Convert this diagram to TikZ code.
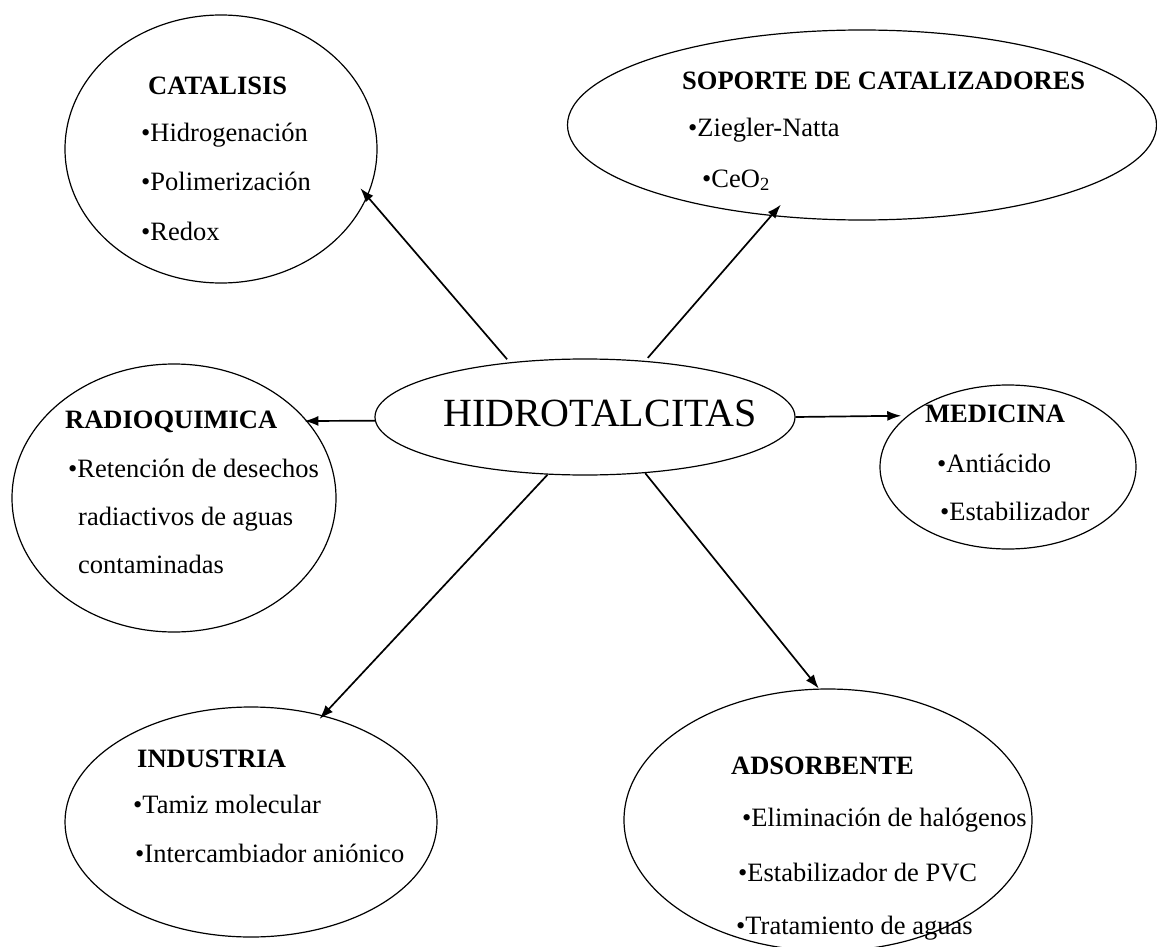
\documentclass[tikz,border=0pt]{standalone}
\usepackage{fontspec}
\setmainfont{Liberation Serif}
\usetikzlibrary{shapes.geometric,arrows.meta}
\tikzset{
  bubble/.style={ellipse, draw, line width=1.2pt, inner sep=0pt},
  headtxt/.style={anchor=base west, inner sep=0pt, font=\fontsize{26.5}{30}\selectfont\bfseries},
  itemtxt/.style={anchor=base west, inner sep=0pt, font=\fontsize{26.5}{30}\selectfont},
  maintxt/.style={anchor=base west, inner sep=0pt, font=\fontsize{40}{44}\selectfont},
  link/.style={line width=1.7pt, -{Latex[length=14pt,width=10pt]}}
}
\begin{document}
\begin{tikzpicture}[x=1pt,y=-1pt]
\useasboundingbox (0,0) rectangle (1157,947);

% ellipses
\node[bubble, minimum width=312pt, minimum height=268pt] (cat) at (221,149) {};
\node[bubble, minimum width=589pt, minimum height=190pt] (sop) at (862,125) {};
\node[bubble, minimum width=420pt, minimum height=116pt] (hid) at (585,417) {};
\node[bubble, minimum width=324pt, minimum height=268pt] (rad) at (174,498) {};
\node[bubble, minimum width=256pt, minimum height=164pt] (med) at (1008,467) {};
\node[bubble, minimum width=372pt, minimum height=230pt] (ind) at (251,822) {};
\node[bubble, minimum width=408pt, minimum height=262pt] (ads) at (828,820) {};

% central text
\node[maintxt] (hidt) at (443,426) {HIDROTALCITAS};

% CATALISIS
\node[headtxt] (catt) at (148,95) {CATALISIS};
\node[itemtxt] (cat1) at (141,142) {•Hidrogenación};
\node[itemtxt] (cat2) at (141,190) {•Polimerización};
\node[itemtxt] (cat3) at (141,240) {•Redox};

% SOPORTE
\node[headtxt] (sopt) at (682,90) {SOPORTE DE CATALIZADORES};
\node[itemtxt] (sop1) at (688,137) {•Ziegler-Natta};
\node[itemtxt] (sop2) at (702,187) {•CeO\textsubscript{2}};

% RADIOQUIMICA
\node[headtxt] (radt) at (65,428) {RADIOQUIMICA};
\node[itemtxt] (rad1) at (68,477) {•Retención de desechos};
\node[itemtxt] (rad2) at (78,525) {radiactivos de aguas};
\node[itemtxt] (rad3) at (78,573) {contaminadas};

% MEDICINA
\node[headtxt] (medt) at (925,422) {MEDICINA};
\node[itemtxt] (med1) at (937,472) {•Antiácido};
\node[itemtxt] (med2) at (940,520) {•Estabilizador};

% INDUSTRIA
\node[headtxt] (indt) at (137,767) {INDUSTRIA};
\node[itemtxt] (ind1) at (133,813) {•Tamiz molecular};
\node[itemtxt] (ind2) at (135,862) {•Intercambiador aniónico};

% ADSORBENTE
\node[headtxt] (adst) at (731,774) {ADSORBENTE};
\node[itemtxt] (ads1) at (742,826) {•Eliminación de halógenos};
\node[itemtxt] (ads2) at (738,881) {•Estabilizador de PVC};
\node[itemtxt] (ads3) at (736,934) {•Tratamiento de aguas};

% connectors
\draw[link, shorten <=4pt, shorten >=-11pt] (hid.144) -- (cat.-18);
\draw[link, shorten <=4pt, shorten >=-15pt] (hid.43) -- (sop.225);
\draw[link, shorten >=-3pt] (hid.181) -- (rad.30);
\draw[link, shorten >=6pt] (hid.0) -- (med.153);
\draw[link, shorten >=-5pt] (hid.237) -- (ind.56);
\draw[link] (hid.-43) -- (ads.94);
\end{tikzpicture}
\end{document}
